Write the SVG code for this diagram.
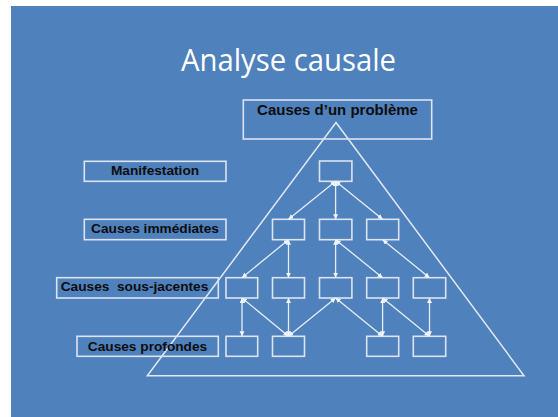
<svg xmlns="http://www.w3.org/2000/svg" width="558" height="417" viewBox="0 0 558 417">
  <style>
    .bg { fill: #4f81bd; }
    .title { font-family: "Open Sans", "Liberation Sans", sans-serif; font-size: 31px; fill: #ffffff; }
    .lbl { font-family: "Liberation Sans", Arial, sans-serif; font-weight: bold; font-size: 13.7px; fill: #0d0d0d; }
    .hdr { font-family: "Liberation Sans", Arial, sans-serif; font-weight: bold; font-size: 15px; fill: #0d0d0d; }
    .box { fill: none; stroke: #dbe4f0; stroke-width: 1.6; }
    .tri { fill: none; stroke: #e2e9f3; stroke-width: 1.5; }
    .conn line { stroke: #e8eef7; stroke-width: 1.3; marker-start: url(#ah); marker-end: url(#ah); }
  </style>
  <defs>
    <marker id="ah" markerUnits="userSpaceOnUse" markerWidth="6" markerHeight="6" refX="5" refY="2.5" orient="auto-start-reverse">
      <path d="M0,0 L5,2.5 L0,5 z" fill="#f2f6fb"/>
    </marker>
  </defs>
  <rect x="0" y="0" width="558" height="417" fill="#ffffff"/>
  <rect class="bg" x="11" y="6" width="547" height="411"/>

  <text class="title" x="288.5" y="71" text-anchor="middle" textLength="215" lengthAdjust="spacingAndGlyphs">Analyse causale</text>

  <g id="triangle">
    <polygon class="tri" points="336,122.5 524,375.7 147.3,375.7"/>
  </g>

  <g id="probleme">
    <rect class="box" x="243.3" y="100" width="188.4" height="39"/>
    <text class="hdr" x="337.5" y="115" text-anchor="middle">Causes d’un problème</text>
  </g>

  <g id="label-manifestation">
    <rect class="box" x="84.3" y="161.3" width="141.7" height="20"/>
    <text class="lbl" x="155" y="175" text-anchor="middle">Manifestation</text>
  </g>
  <g id="label-immediates">
    <rect class="box" x="84.3" y="219.3" width="141.7" height="20.4"/>
    <text class="lbl" x="155" y="233" text-anchor="middle">Causes immédiates</text>
  </g>
  <g id="label-sousjacentes">
    <rect class="box" x="56.7" y="277.7" width="161.6" height="20.3"/>
    <text class="lbl" x="134.5" y="291.3" text-anchor="middle" xml:space="preserve">Causes  sous-jacentes</text>
  </g>
  <g id="label-profondes">
    <rect class="box" x="77" y="336.3" width="141.3" height="20"/>
    <text class="lbl" x="147.5" y="350.5" text-anchor="middle">Causes profondes</text>
  </g>

  <g id="n-r1c3"><rect class="box" x="319.5" y="161" width="32.4" height="20.3"/></g>
  <g id="n-r2c2"><rect class="box" x="272.5" y="219.3" width="32" height="20.4"/></g>
  <g id="n-r2c3"><rect class="box" x="319.5" y="219.3" width="32.4" height="20.4"/></g>
  <g id="n-r2c4"><rect class="box" x="366.7" y="219.3" width="32" height="20.4"/></g>
  <g id="n-r3c1"><rect class="box" x="226" y="277.7" width="31.7" height="20.3"/></g>
  <g id="n-r3c2"><rect class="box" x="272.5" y="277.7" width="32" height="20.3"/></g>
  <g id="n-r3c3"><rect class="box" x="319.5" y="277.7" width="32.4" height="20.3"/></g>
  <g id="n-r3c4"><rect class="box" x="366.7" y="277.7" width="32" height="20.3"/></g>
  <g id="n-r3c5"><rect class="box" x="413.3" y="277.7" width="32.4" height="20.3"/></g>
  <g id="n-r4c1"><rect class="box" x="226" y="336.3" width="31.7" height="20"/></g>
  <g id="n-r4c2"><rect class="box" x="272.5" y="336.3" width="32" height="20"/></g>
  <g id="n-r4c4"><rect class="box" x="366.7" y="336.3" width="32" height="20"/></g>
  <g id="n-r4c5"><rect class="box" x="413.3" y="336.3" width="32.4" height="20"/></g>

  <g id="connectors" class="conn">
    <line x1="335.6" y1="181.3" x2="288.5" y2="219.3"/>
    <line x1="335.6" y1="181.3" x2="335.6" y2="219.3"/>
    <line x1="335.6" y1="181.3" x2="382.6" y2="219.3"/>
    <line x1="288.5" y1="239.7" x2="242" y2="277.7"/>
    <line x1="288.5" y1="239.7" x2="288.5" y2="277.7"/>
    <line x1="335.6" y1="239.7" x2="335.6" y2="277.7"/>
    <line x1="335.6" y1="239.7" x2="382.6" y2="277.7"/>
    <line x1="382.6" y1="239.7" x2="429.5" y2="277.7"/>
    <line x1="242" y1="298" x2="242" y2="336.3"/>
    <line x1="242" y1="298" x2="288.5" y2="336.3"/>
    <line x1="288.5" y1="298" x2="288.5" y2="336.3"/>
    <line x1="335.6" y1="298" x2="288.5" y2="336.3"/>
    <line x1="335.6" y1="298" x2="382.6" y2="336.3"/>
    <line x1="382.6" y1="298" x2="382.6" y2="336.3"/>
    <line x1="382.6" y1="298" x2="429.5" y2="336.3"/>
    <line x1="429.5" y1="298" x2="429.5" y2="336.3"/>
  </g>
</svg>
